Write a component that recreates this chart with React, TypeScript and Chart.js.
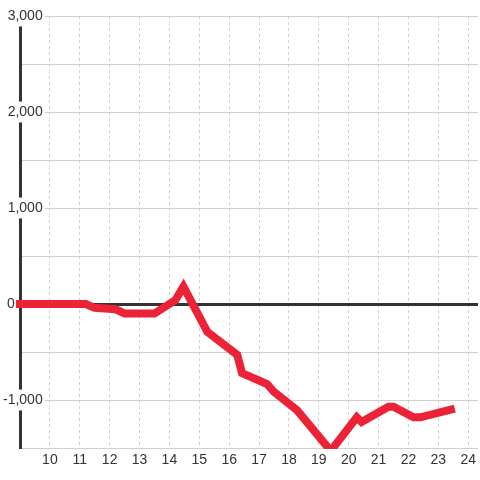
import React, { useEffect, useRef } from "react";
import { Chart, registerables } from "chart.js";

Chart.register(...registerables);

// Hours (x) and values (y) of the red series
const hours = [9, 11.2, 11.5, 12.2, 12.5, 13.5, 14.2, 14.47, 15.27, 16.27, 16.43, 17.27, 17.5, 18.27, 19.4, 20.27, 20.43, 21.33, 21.5, 22.17, 22.4, 23.42];
const values = [0, 0, -40, -55, -100, -100, 40, 180, -290, -530, -720, -835, -915, -1105, -1530, -1180, -1230, -1070, -1070, -1180, -1180, -1100];

// Axis ticks
const xTicks = [10, 11, 12, 13, 14, 15, 16, 17, 18, 19, 20, 21, 22, 23, 24];
const xMin = 9;
const xMax = 24.33;
const yMin = -1500;
const yMax = 3000;
const yStep = 500;
const yLabelStep = 1000;

const FONT = "'Liberation Sans', Arial, Helvetica, sans-serif";

export default function App() {
  const ref = useRef<HTMLCanvasElement | null>(null);

  useEffect(() => {
    const canvas = ref.current;
    if (!canvas) return;
    const chart = new Chart(canvas, {
      type: "line",
      data: {
        datasets: [
          {
            data: hours.map((h, i) => ({ x: h, y: values[i] })),
            borderColor: "#ec2237",
            borderWidth: 8,
            borderCapStyle: "square",
            borderJoinStyle: "miter",
            pointRadius: 0,
            tension: 0,
            fill: false,
            clip: { left: 6, top: 6, right: 6, bottom: 1 } as any,
          },
        ],
      },
      options: {
        animation: false,
        responsive: false,
        maintainAspectRatio: false,
        layout: { padding: { top: 16, left: 0, right: 0, bottom: 0 } },
        plugins: {
          legend: { display: false },
          tooltip: { enabled: false },
        },
        scales: {
          x: {
            type: "linear",
            min: xMin,
            max: xMax,
            afterBuildTicks: (scale: any) => {
              scale.ticks = xTicks.map((v) => ({ value: v }));
            },
            afterFit: (scale: any) => {
              scale.height = 32;
            },
            grid: {
              color: "#cfcfcf",
              lineWidth: 1,
              drawTicks: false,
            },
            border: { display: false, dash: [3, 3] },
            ticks: {
              autoSkip: false,
              maxRotation: 0,
              padding: 4,
              color: "#333",
              font: { family: FONT, size: 14 },
              callback: (v: any) => String(v),
            },
          },
          y: {
            type: "linear",
            min: yMin,
            max: yMax,
            afterFit: (scale: any) => {
              scale.width = 20;
            },
            grid: {
              drawTicks: false,
              color: (ctx: any) => (ctx.tick && ctx.tick.value === 0 ? "#333" : "#cfcfcf"),
              lineWidth: (ctx: any) => (ctx.tick && ctx.tick.value === 0 ? 3 : 1),
            },
            border: { display: true, color: "#333", width: 3 },
            ticks: {
              stepSize: yStep,
              autoSkip: false,
              mirror: true,
              crossAlign: "far",
              padding: -17,
              color: "#333",
              font: { family: FONT, size: 14 },
              showLabelBackdrop: (ctx: any) =>
                !!ctx.tick && ctx.tick.value % yLabelStep === 0 && ctx.tick.value !== 0,
              backdropColor: "#ffffff",
              backdropPadding: 2,
              callback: (v: any) => {
                const n = Number(v);
                if (n % yLabelStep !== 0) return "";
                if (n === 0) return "0\u2002\u2002\u2002\u2002";
                return n.toLocaleString("en-US");
              },
            },
          },
        },
      },
    });
    return () => chart.destroy();
  }, []);

  return (
    <div style={{ position: "fixed", left: 0, top: 0, width: 480, height: 480, background: "#fff" }}>
      <canvas ref={ref} width={480} height={480} style={{ width: 480, height: 480, display: "block" }} />
    </div>
  );
}
